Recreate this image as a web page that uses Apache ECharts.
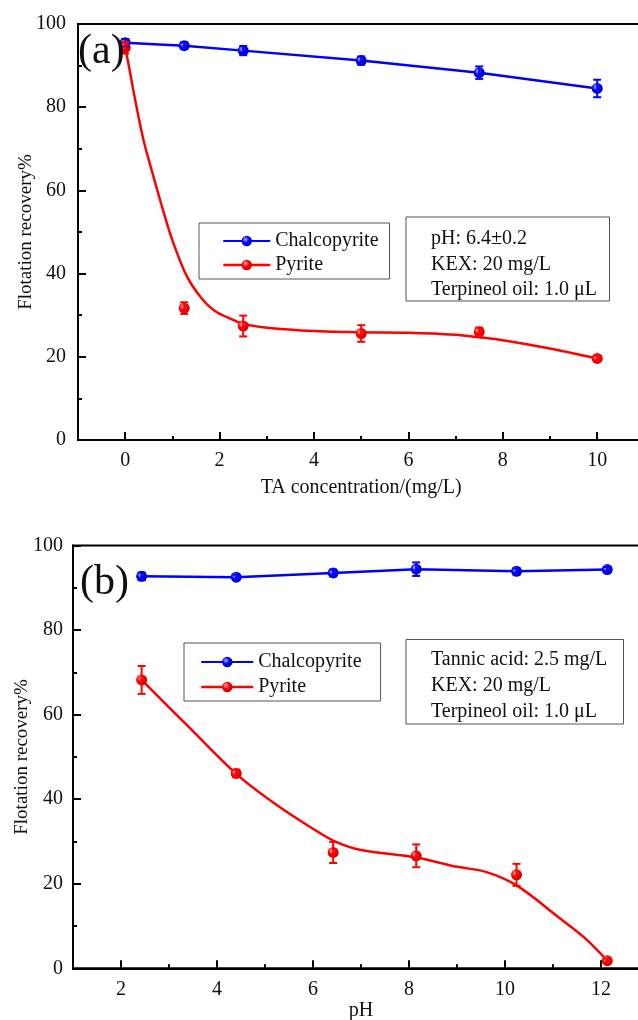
<!DOCTYPE html>
<html>
<head>
<meta charset="utf-8">
<script src="https://cdn.jsdelivr.net/npm/echarts@6/dist/echarts.min.js"></script>
<style>
  html, body { margin: 0; padding: 0; background: #fff; }
  #chart { width: 638px; height: 1020px; }
</style>
</head>
<body>
<div id="chart"></div>
<script>
  // panel (a): recovery vs TA concentration
  const taConc = [0, 1.25, 2.5, 5, 7.5, 10];
  const chalA = [95.5, 94.8, 93.6, 91.2, 88.3, 84.5];
  const chalAErr = [0.9, 0.8, 1.1, 1.0, 1.5, 2.1];
  const pyrA = [94.3, 31.7, 27.4, 25.6, 26.0, 19.6];
  const pyrAErr = [1.4, 1.4, 2.5, 2.0, 1.0, 0.7];
  // fitted curve for pyrite
  const fitAX = [0, 0.1, 0.25, 0.4, 0.6, 0.8, 1.0, 1.3, 1.6, 1.9, 2.3, 2.5, 3, 4, 5, 6, 7, 7.5, 8, 9, 10];
  const fitAY = [94.5, 88.5, 79.5, 71.5, 63.3, 55.3, 48, 39.5, 34.3, 31, 28.8, 27.9, 27, 26.2, 25.9, 25.8, 25.3, 24.7, 24, 22, 19.6];

  // panel (b): recovery vs pH
  const phVals = [2.43, 4.4, 6.42, 8.15, 10.24, 12.13];
  const chalB = [92.7, 92.5, 93.5, 94.4, 93.9, 94.3];
  const chalBErr = [0.9, 0.6, 0.8, 1.6, 0.7, 0.6];
  const pyrB = [68.2, 46.1, 27.4, 26.6, 22.1, 1.8];
  const pyrBErr = [3.3, 0.9, 2.5, 2.7, 2.6, 0.5];
  const fitBX = [2.43, 3.4, 4.4, 5.2, 6.1, 6.5, 7.0, 8.15, 9.0, 9.6, 10.24, 11.1, 11.66, 12.13];
  const fitBY = [68.2, 57.2, 46.0, 39.0, 32.3, 29.8, 28.0, 26.2, 24.0, 22.8, 19.6, 12.2, 7.2, 1.8];

  const xTicksA = [0, 2, 4, 6, 8, 10];
  const xMinorA = [1, 3, 5, 7, 9];
  const xTicksB = [2, 4, 6, 8, 10, 12];
  const xMinorB = [3, 5, 7, 9, 11];

  const FONT = "'Liberation Serif', 'Times New Roman', serif";
  const BLUE = "#0000ff";
  const RED = "#ff0000";

  function ball(c, light, dark) {
    return {
      type: "radial", x: 0.38, y: 0.35, r: 0.7,
      colorStops: [
        { offset: 0, color: light },
        { offset: 0.45, color: c },
        { offset: 1, color: dark },
      ],
    };
  }
  const blueBall = ball(BLUE, "#b8b8ff", "#0000b0");
  const redBall = ball(RED, "#ffb8b8", "#c00000");

  const zip = (xs, ys) => xs.map((x, i) => [x, ys[i]]);
  const errData = (xs, ys, es) => xs.map((x, i) => [x, ys[i] - es[i], ys[i] + es[i]]);

  function errorBars(name, data, color, gi) {
    return {
      type: "custom",
      name: name,
      xAxisIndex: gi * 2,
      yAxisIndex: gi,
      silent: true,
      z: 4,
      data: data,
      encode: { x: 0, y: [1, 2] },
      renderItem: function (params, api) {
        const x = api.value(0);
        const lo = api.coord([x, api.value(1)]);
        const hi = api.coord([x, api.value(2)]);
        const w = 4;
        const st = { stroke: color, lineWidth: 2 };
        return {
          type: "group",
          children: [
            { type: "line", shape: { x1: lo[0], y1: lo[1], x2: hi[0], y2: hi[1] }, style: st },
            { type: "line", shape: { x1: lo[0] - w, y1: lo[1], x2: lo[0] + w, y2: lo[1] }, style: st },
            { type: "line", shape: { x1: hi[0] - w, y1: hi[1], x2: hi[0] + w, y2: hi[1] }, style: st },
          ],
        };
      },
    };
  }

  function mainX(gi, min, max, ticks, title, gap) {
    return {
      type: "value", gridIndex: gi, position: "bottom", min: min, max: max,
      name: title, nameLocation: "middle", nameGap: gap,
      nameTextStyle: { fontFamily: FONT, fontSize: 20, color: "#111" },
      axisLine: { onZero: false, lineStyle: { color: "#000", width: 2 } },
      axisTick: { inside: true, length: 8, lineStyle: { color: "#000", width: 2 }, customValues: ticks },
      axisLabel: { customValues: ticks, fontFamily: FONT, fontSize: 20, color: "#111", margin: 11 },
      splitLine: { show: false },
    };
  }
  function minorX(gi, min, max, ticks) {
    return {
      type: "value", gridIndex: gi, position: "bottom", min: min, max: max,
      axisLine: { show: false, onZero: false },
      axisTick: { inside: true, length: 4, lineStyle: { color: "#000", width: 2 }, customValues: ticks },
      axisLabel: { show: false },
      splitLine: { show: false },
    };
  }
  function mainY(gi, gap, margin) {
    return {
      type: "value", gridIndex: gi, min: 0, max: 100, interval: 20,
      name: "Flotation recovery%", nameLocation: "middle", nameGap: gap, nameMoveOverlap: false,
      nameTextStyle: { fontFamily: FONT, fontSize: 19, color: "#111" },
      axisLine: { show: true, onZero: false, lineStyle: { color: "#000", width: 2 } },
      axisTick: { inside: true, length: 8, lineStyle: { color: "#000", width: 2 } },
      minorTick: { show: true, splitNumber: 2, length: 4, lineStyle: { color: "#000", width: 2 } },
      axisLabel: { fontFamily: FONT, fontSize: 20, color: "#111", margin: margin },
      splitLine: { show: false },
    };
  }

  const chart = echarts.init(document.getElementById("chart"));
  const option = {
    backgroundColor: "#fff",
    animation: false,
    grid: [
      { left: 78, top: 24, right: -6.4, bottom: 580, outerBoundsMode: "none", containLabel: false,
        show: true, borderColor: "#000", borderWidth: 2 },
      { left: 73, top: 545.5, right: -11, bottom: 51.7, outerBoundsMode: "none", containLabel: false,
        show: true, borderColor: "#000", borderWidth: 2 },
    ],
    xAxis: [
      mainX(0, -1, 11, xTicksA, "TA concentration/(mg/L)", 38),
      minorX(0, -1, 11, xMinorA),
      mainX(1, 1, 13, xTicksB, "pH", 32),
      minorX(1, 1, 13, xMinorB),
    ],
    yAxis: [mainY(0, 42, 12), mainY(1, 41, 10)],
    legend: [
      {
        orient: "vertical", left: 199, top: 223,
        padding: [8, 11, 4, 23], itemGap: 4, itemWidth: 47, itemHeight: 13,
        borderColor: "#555", borderWidth: 1, backgroundColor: "#fff",
        textStyle: { fontFamily: FONT, fontSize: 20, color: "#111", lineHeight: 20 },
        data: [
          { name: "Chalcopyrite" },
          { name: "Pyrite", lineStyle: { width: 2.5, color: RED, opacity: 1 } },
        ],
      },
      {
        orient: "vertical", left: 184, top: 643,
        padding: [9, 14, 4, 16], itemGap: 5, itemWidth: 52, itemHeight: 13,
        borderColor: "#555", borderWidth: 1, backgroundColor: "#fff",
        textStyle: { fontFamily: FONT, fontSize: 20, color: "#111", lineHeight: 20 },
        data: [
          { name: "Chalcopyrite " },
          { name: "Pyrite ", lineStyle: { width: 2.5, color: RED, opacity: 1 } },
        ],
      },
    ],
    graphic: [
      { type: "text", left: 78, top: 31, style: { text: "(a)", font: "42px " + FONT, fill: "#111" }, z: 10 },
      { type: "text", left: 80, top: 562, style: { text: "(b)", font: "42px " + FONT, fill: "#111" }, z: 10 },
      {
        type: "rect", left: 405.5, top: 216.5, shape: { width: 203.5, height: 84 },
        style: { fill: "#fff", stroke: "#555", lineWidth: 1 }, z: 5,
      },
      {
        type: "text", left: 431, top: 226, z: 6,
        style: { text: "pH: 6.4±0.2\nKEX: 20 mg/L\nTerpineol oil: 1.0 μL", font: "20px " + FONT, fill: "#111", lineHeight: 25.5 },
      },
      {
        type: "rect", left: 405.5, top: 639, shape: { width: 217.5, height: 84.5 },
        style: { fill: "#fff", stroke: "#555", lineWidth: 1 }, z: 5,
      },
      {
        type: "text", left: 431, top: 647, z: 6,
        style: { text: "Tannic acid: 2.5 mg/L\nKEX: 20 mg/L\nTerpineol oil: 1.0 μL", font: "20px " + FONT, fill: "#111", lineHeight: 25.8 },
      },
    ],
    series: [
      // panel (a)
      {
        name: "Pyrite fit", type: "line", xAxisIndex: 0, yAxisIndex: 0, smooth: 0.3,
        showSymbol: false, silent: true, z: 2,
        lineStyle: { color: RED, width: 2.5 }, data: zip(fitAX, fitAY),
      },
      {
        name: "Chalcopyrite", type: "line", xAxisIndex: 0, yAxisIndex: 0, z: 3,
        symbol: "circle", symbolSize: 11,
        lineStyle: { color: BLUE, width: 2.5 }, itemStyle: { color: blueBall },
        data: zip(taConc, chalA),
      },
      {
        name: "Pyrite", type: "line", xAxisIndex: 0, yAxisIndex: 0, z: 3,
        symbol: "circle", symbolSize: 11,
        lineStyle: { color: RED, width: 0 }, itemStyle: { color: redBall },
        data: zip(taConc, pyrA),
      },
      errorBars("Chalcopyrite err", errData(taConc, chalA, chalAErr), BLUE, 0),
      errorBars("Pyrite err", errData(taConc, pyrA, pyrAErr), RED, 0),
      // panel (b)
      {
        name: "Pyrite fit b", type: "line", xAxisIndex: 2, yAxisIndex: 1, smooth: 0.35,
        showSymbol: false, silent: true, z: 2,
        lineStyle: { color: RED, width: 2.5 }, data: zip(fitBX, fitBY),
      },
      {
        name: "Chalcopyrite ", type: "line", xAxisIndex: 2, yAxisIndex: 1, z: 3,
        symbol: "circle", symbolSize: 11,
        lineStyle: { color: BLUE, width: 2.5 }, itemStyle: { color: blueBall },
        data: zip(phVals, chalB),
      },
      {
        name: "Pyrite ", type: "line", xAxisIndex: 2, yAxisIndex: 1, z: 3,
        symbol: "circle", symbolSize: 11,
        lineStyle: { color: RED, width: 0 }, itemStyle: { color: redBall },
        data: zip(phVals, pyrB),
      },
      errorBars("Chalcopyrite err b", errData(phVals, chalB, chalBErr), BLUE, 1),
      errorBars("Pyrite err b", errData(phVals, pyrB, pyrBErr), RED, 1),
    ],
  };
  chart.setOption(option);
</script>
</body>
</html>
